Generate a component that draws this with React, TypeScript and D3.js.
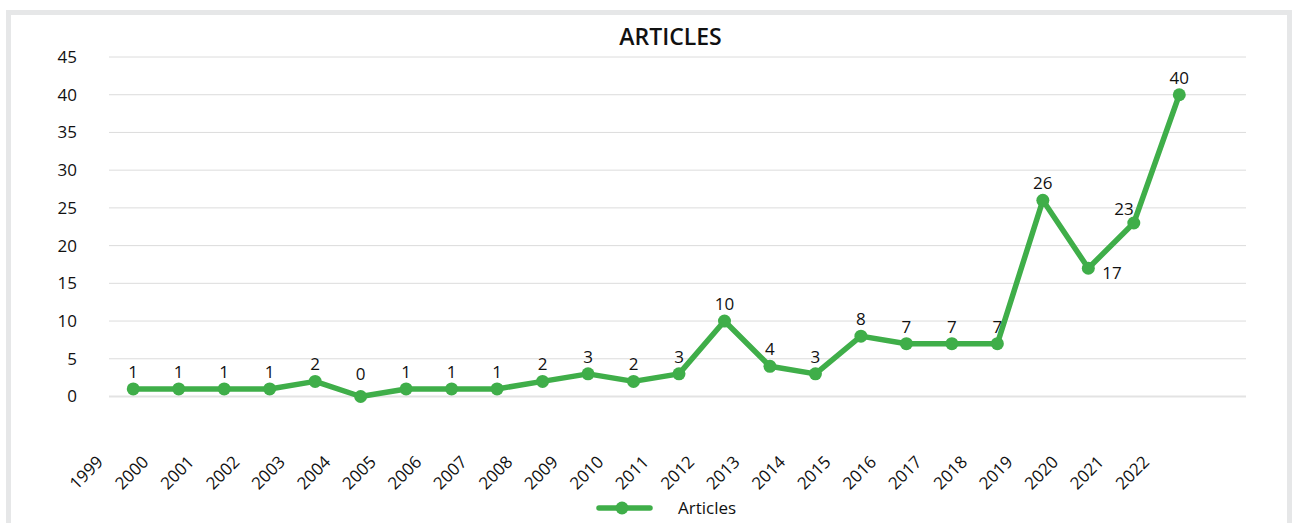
import React from "react";
import * as d3 from "d3";

const years = ["1999","2000","2001","2002","2003","2004","2005","2006","2007","2008","2009","2010","2011","2012","2013","2014","2015","2016","2017","2018","2019","2020","2021","2022"];
const articles = [1,1,1,1,2,0,1,1,1,2,3,2,3,10,4,3,8,7,7,7,26,17,23,40];
const yTicks = [0,5,10,15,20,25,30,35,40,45];
const seriesName = "Articles";
const title = "ARTICLES";

// label placement per point (style)
const labelPlacement: Record<number, string> = { 21: "right", 22: "left" };

const W = 1293, H = 523;
const FONT = "'Open Sans', 'Noto Sans', sans-serif";
const GREEN = "#3fae49";

export default function App() {
  const left = 109, right = 1246, top = 57, bottom = 396.5;
  const slots = [...years, ""];
  const x = d3.scaleBand<string>().domain(slots).range([left + 1.5, right + 1.5]);
  const cx = (i: number) => (x(years[i]) as number) + x.bandwidth() / 2;
  const y = d3.scaleLinear().domain([0, 45]).range([bottom, top]);
  const line = d3.line<number>().x((_, i) => cx(i)).y(d => y(d));

  return (
    <svg width={W} height={H} style={{ position: "absolute", left: 0, top: 0, background: "#fff" }}>
      <rect x={8.5} y={12.5} width={1281} height={H + 20} fill="#fff" stroke="#e6e7e8" strokeWidth={5} />
      <text x={670.5} y={45} textAnchor="middle" fontFamily={FONT} fontWeight={600} fontSize={23} fill="#111">{title}</text>
      {yTicks.map(t => (
        <g key={t}>
          <line x1={left} x2={right} y1={y(t)} y2={y(t)} stroke={t === 0 ? "#e3e3e3" : "#dcdcdc"} strokeWidth={t === 0 ? 2 : 1} />
          <text x={77} y={y(t)} dy="0.35em" textAnchor="end" fontFamily={FONT} fontSize={17} fill="#111">{t}</text>
        </g>
      ))}
      {years.map((yr, i) => (
        <text key={yr} transform={`translate(${cx(i) - 29},${463}) rotate(-45)`} textAnchor="end" fontFamily={FONT} fontSize={17} fill="#111">{yr}</text>
      ))}
      <path d={line(articles) || ""} fill="none" stroke={GREEN} strokeWidth={5.5} strokeLinejoin="round" />
      {articles.map((v, i) => (
        <circle key={i} cx={cx(i)} cy={y(v)} r={6.5} fill={GREEN} />
      ))}
      {articles.map((v, i) => {
        const p = labelPlacement[i];
        let tx = cx(i), ty = y(v) - 11, anchor = "middle";
        if (p === "right") { tx = cx(i) + 14; ty = y(v) + 11; anchor = "start"; }
        if (p === "left") { tx = cx(i); ty = y(v) - 8; anchor = "end"; }
        if (v === 0) ty = y(v) - 17;
        return (
          <text key={"l" + i} x={tx} y={ty} textAnchor={anchor} fontFamily={FONT} fontSize={17} fill="#111">{v}</text>
        );
      })}
      <g>
        <line x1={599} x2={650} y1={508} y2={508} stroke={GREEN} strokeWidth={5.5} strokeLinecap="round" />
        <circle cx={622} cy={508} r={6.5} fill={GREEN} />
        <text x={678} y={508} dy="0.35em" fontFamily={FONT} fontSize={17} fill="#111">{seriesName}</text>
      </g>
    </svg>
  );
}
